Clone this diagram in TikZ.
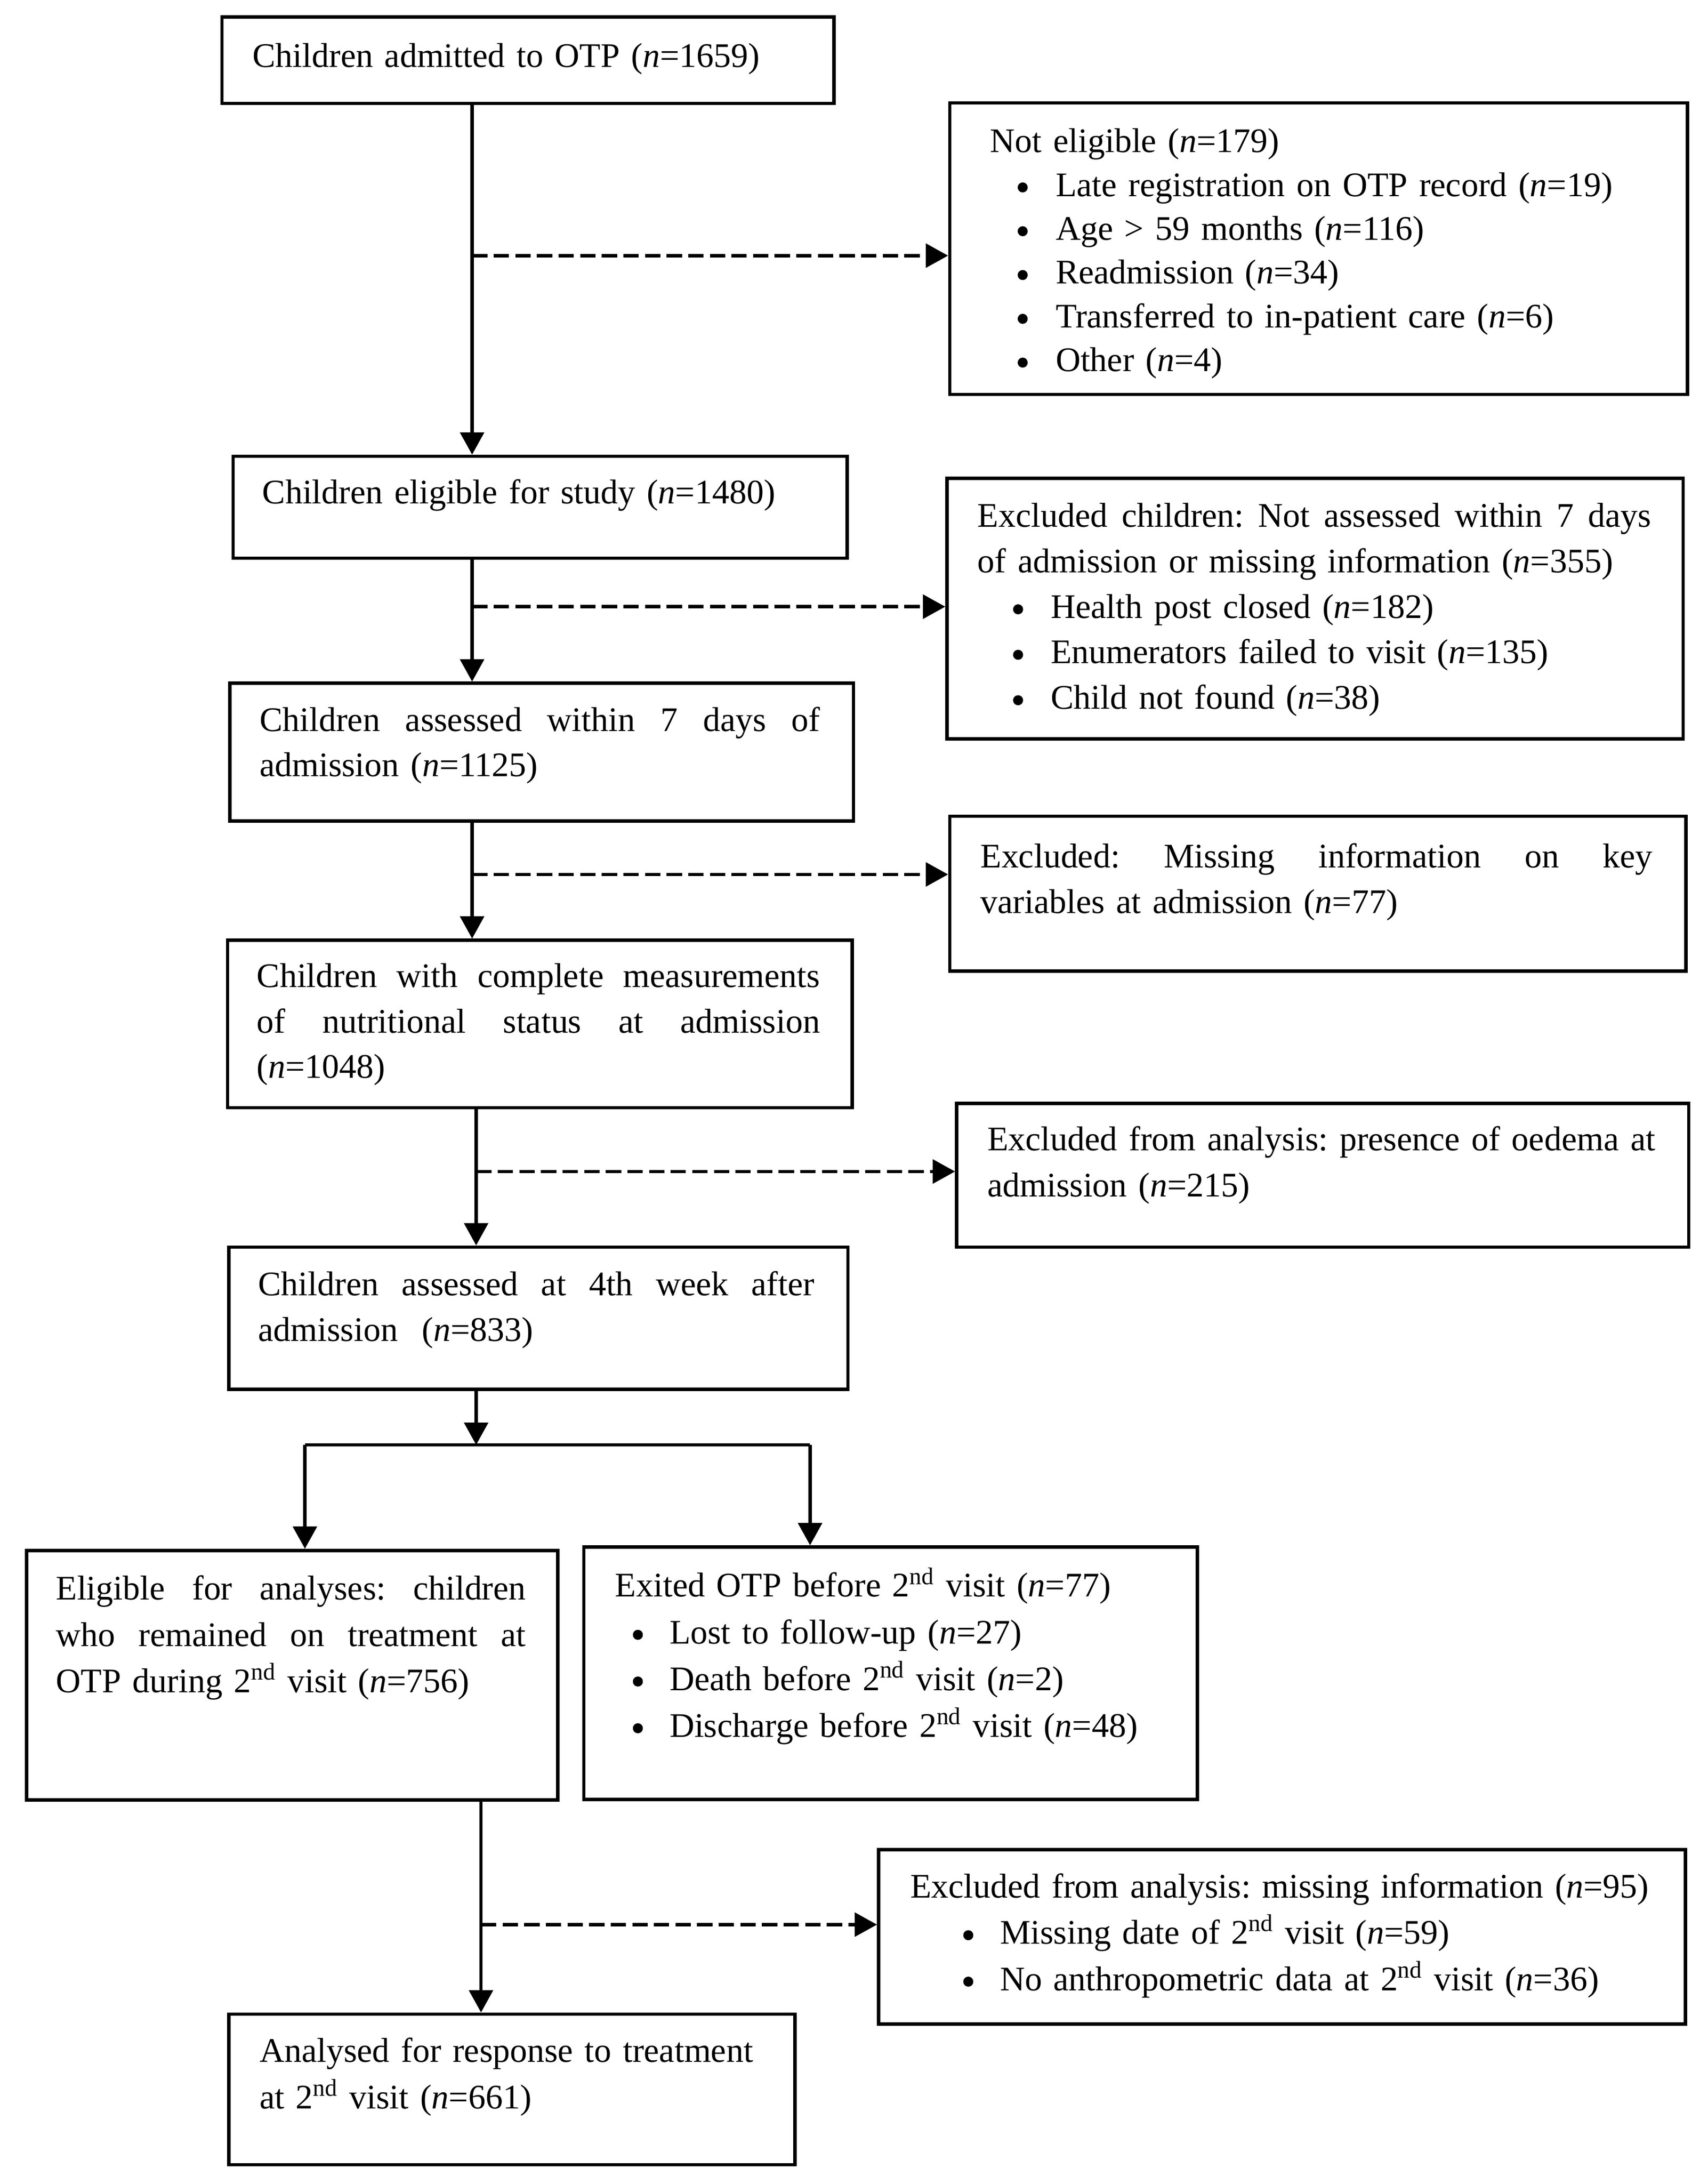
\documentclass[tikz,border=0pt]{standalone}
\usepackage{fontspec}
\setmainfont{Liberation Serif}
\usetikzlibrary{arrows.meta,calc}
\frenchspacing
\newcommand{\nn}{\textit{n}}
\newcommand{\jl}[2]{\leavevmode\hbox to #1{\spaceskip=0.25em plus 1fil minus 0.12em\xspaceskip=\spaceskip #2}}
\begin{document}
\begin{tikzpicture}[x=1pt,y=-1pt,
  box/.style={draw,line width=2.4pt,rectangle,inner sep=0pt,anchor=north west},
  txt/.style={inner sep=0pt,anchor=base west,align=left,text width=#1},
  fnt/.style={font=\fontsize{24.7}{#1}\selectfont},
  arr/.style={line width=2.4pt,-{Triangle[length=16pt,width=17pt]}},
  darr/.style={line width=2.4pt,dash pattern=on 11pt off 4.5pt,-{Triangle[length=16pt,width=17pt]}},
  conn/.style={line width=2.4pt},
  dot/.style={fill=black}]
\useasboundingbox (0,0) rectangle (1225,1566);
% boxes
\node[box,minimum width=439pt,minimum height=62pt] (B1) at (158,11) {};
\node[box,minimum width=529pt,minimum height=209pt] (B2) at (680,72.6) {};
\node[box,minimum width=440.5pt,minimum height=73pt] (B3) at (166,326) {};
\node[box,minimum width=528pt,minimum height=187pt] (B4) at (678,341.7) {};
\node[box,minimum width=447.4pt,minimum height=98.7pt] (B5) at (163.6,488.7) {};
\node[box,minimum width=528pt,minimum height=111pt] (B6) at (680,584) {};
\node[box,minimum width=448pt,minimum height=120pt] (B7) at (162,673) {};
\node[box,minimum width=525pt,minimum height=103pt] (B8) at (685,790) {};
\node[box,minimum width=444pt,minimum height=102pt] (B9) at (163,893) {};
\node[box,minimum width=381pt,minimum height=179pt] (B10) at (17.8,1110.5) {};
\node[box,minimum width=440pt,minimum height=181pt] (B11) at (417.5,1108) {};
\node[box,minimum width=578.6pt,minimum height=125pt] (B12) at (629,1325) {};
\node[box,minimum width=406pt,minimum height=108pt] (B13) at (163,1443) {};
% texts
\node[txt=430pt,fnt=32.5] (T1) at (181,48) {Children admitted to OTP (\nn=1659)};
\node[txt=495pt,fnt=31.4] (T2) at (710,109.3) {Not eligible (\nn=179)\\
\hspace*{47pt}Late registration on OTP record (\nn=19)\\
\hspace*{47pt}Age > 59 months (\nn=116)\\
\hspace*{47pt}Readmission (\nn=34)\\
\hspace*{47pt}Transferred to in-patient care (\nn=6)\\
\hspace*{47pt}Other (\nn=4)};
\node[txt=410pt,fnt=32.5] (T3) at (188,361) {Children eligible for study (\nn=1480)};
\node[txt=500pt,fnt=32.6] (T4) at (701,378) {\jl{483pt}{Excluded children: Not assessed within 7 days}\\
of admission or missing information (\nn=355)\\
\hspace*{52.5pt}Health post closed (\nn=182)\\
\hspace*{52.5pt}Enumerators failed to visit (\nn=135)\\
\hspace*{52.5pt}Child not found (\nn=38)};
\node[txt=420pt,fnt=32.5] (T5) at (186,524.3) {\jl{402pt}{Children assessed within 7 days of}\\
admission (\nn=1125)};
\node[txt=500pt,fnt=33] (T6) at (703,622) {\jl{482pt}{Excluded: Missing information on key}\\
variables at admission (\nn=77)};
\node[txt=420pt,fnt=32.5] (T7) at (184,708) {\jl{404pt}{Children with complete measurements}\\
\jl{404pt}{of nutritional status at admission}\\
(\nn=1048)};
\node[txt=500pt,fnt=33] (T8) at (708,825) {\jl{479pt}{Excluded from analysis: presence of oedema at}\\
admission (\nn=215)};
\node[txt=420pt,fnt=32.5] (T9) at (185,929) {\jl{399pt}{Children assessed at 4th week after}\\
admission\hspace*{9pt} (\nn=833)};
\node[txt=350pt,fnt=33.3] (T10) at (40,1147) {\jl{337pt}{Eligible for analyses: children}\\
\jl{337pt}{who remained on treatment at}\\
OTP during 2\textsuperscript{nd} visit (\nn=756)};
\node[txt=410pt,fnt=33.5] (T11) at (441,1145) {Exited OTP before 2\textsuperscript{nd} visit (\nn=77)\\
\hspace*{39pt}Lost to follow-up (\nn=27)\\
\hspace*{39pt}Death before 2\textsuperscript{nd} visit (\nn=2)\\
\hspace*{39pt}Discharge before 2\textsuperscript{nd} visit (\nn=48)};
\node[txt=550pt,fnt=33.3] (T12) at (652.7,1360.6) {Excluded from analysis: missing information (\nn=95)\\
\hspace*{64.3pt}Missing date of 2\textsuperscript{nd} visit (\nn=59)\\
\hspace*{64.3pt}No anthropometric data at 2\textsuperscript{nd} visit (\nn=36)};
\node[txt=390pt,fnt=33.5] (T13) at (186,1478.6) {Analysed for response to treatment\\
at 2\textsuperscript{nd} visit (\nn=661)};
% bullets
\foreach \k in {1,...,5} \fill[dot] ({733.5},{109.3+31.4*\k-6.3}) circle (3.6pt);
\foreach \k in {2,3,4} \fill[dot] ({730.2},{378+32.6*\k-6.3}) circle (3.6pt);
\foreach \k in {1,2,3} \fill[dot] ({457.5},{1145+33.5*\k-6.3}) circle (3.6pt);
\foreach \k in {1,2} \fill[dot] ({694.5},{1360.6+33.3*\k-6.3}) circle (3.6pt);
% coordinates for connectors
\coordinate (mx1) at (338.6,0);
\coordinate (mx2) at (341.5,0);
\coordinate (mx3) at (345,0);
\coordinate (d1) at (338.6,183.3);
\coordinate (d2) at (338.6,435);
\coordinate (d3) at (338.6,627);
\coordinate (d4) at (341.5,840);
\coordinate (d5) at (345,1380);
\coordinate (J) at (341.5,1036);
\coordinate (JL) at (218.7,1036);
\coordinate (JR) at (581,1036);
% main flow
\draw[arr] (B1.south -| mx1) -- (B3.north -| mx1);
\draw[arr] (B3.south -| mx1) -- (B5.north -| mx1);
\draw[arr] (B5.south -| mx1) -- (B7.north -| mx1);
\draw[arr] (B7.south -| mx2) -- (B9.north -| mx2);
\draw[arr] (B9.south -| mx2) -- (J);
\draw[conn] (JL) -- (JR);
\draw[arr] (JL) -- (B10.north -| JL);
\draw[arr] (JR) -- (B11.north -| JR);
\draw[arr] (B10.south -| mx3) -- (B13.north -| mx3);
% dashed side arrows
\draw[darr] (d1) -- (d1 -| B2.west);
\draw[darr] (d2) -- (d2 -| B4.west);
\draw[darr] (d3) -- (d3 -| B6.west);
\draw[darr] (d4) -- (d4 -| B8.west);
\draw[darr] (d5) -- (d5 -| B12.west);
\end{tikzpicture}
\end{document}
